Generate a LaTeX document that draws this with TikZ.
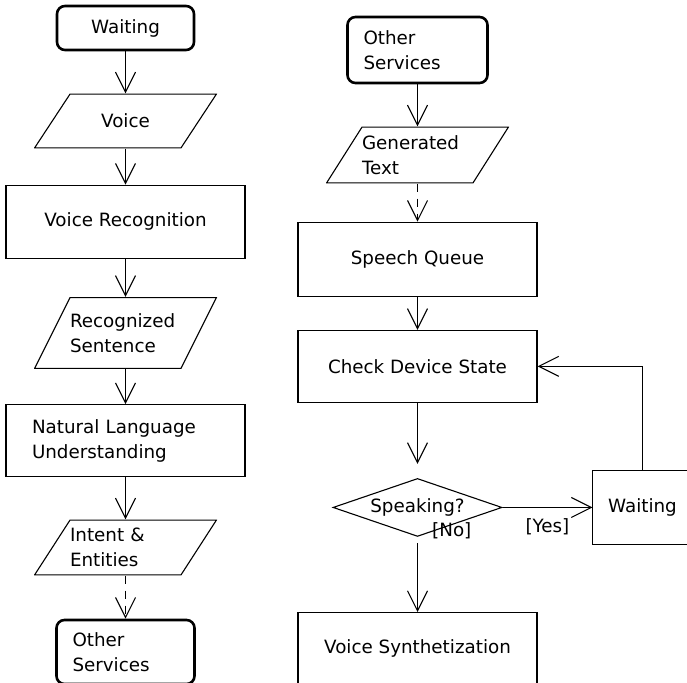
\documentclass[tikz,border=0pt]{standalone}
\usepackage{fontspec}
\setmainfont{DejaVu Sans}
\usetikzlibrary{shapes.geometric,arrows.meta,positioning}
\newcommand{\diagfont}{\fontsize{18.3}{25}\selectfont}
\tikzset{
    % Rounded start/end boxes
    terminal/.style={
        rectangle,
        rounded corners=8pt,
        draw,
        line width=2.6pt,
        minimum width=138pt,
        minimum height=66pt,
        align=left,
        font=\diagfont
    },
    process/.style={
        rectangle,
        draw,
        line width=1.1pt,
        minimum width=239pt,
        minimum height=73pt,
        align=center,
        font=\diagfont
    },
    % Data (parallelogram) boxes
    io/.style={
        rectangle,
        fill=white,
        minimum width=183pt,
        minimum height=56pt,
        text width=111pt,
        inner xsep=36pt,
        align=left,
        font=\diagfont,
        path picture={
            \draw[line width=1.1pt]
                ([shift={(0.6pt,0.6pt)}]path picture bounding box.south west) --
                ([shift={(-36pt,0.6pt)}]path picture bounding box.south east) --
                ([shift={(-0.6pt,-0.6pt)}]path picture bounding box.north east) --
                ([shift={(36pt,-0.6pt)}]path picture bounding box.north west) -- cycle;
        }
    },
    decision/.style={
        diamond,
        draw,
        line width=1.1pt,
        inner sep=0pt,
        aspect=2.9,
        minimum width=169pt,
        minimum height=58pt,
        align=center,
        font=\diagfont
    },
    guard/.style={
        inner sep=0pt,
        font=\diagfont
    },
    arrow/.style={
        -{Straight Barb[length=20pt,width=20pt]},
        line width=1.1pt
    },
    arrow dashed/.style={
        arrow,
        dash pattern=on 8pt off 7pt
    }
}

\begin{document}
\begin{tikzpicture}[x=1pt, y=1pt]
        \useasboundingbox (0,0) rectangle (687,-682);

        % Voice input column
        \node[terminal, minimum width=137pt, minimum height=44pt, align=center] (waitA) at (125.5,-28) {Waiting};
        \node[io, align=center, minimum height=55pt, below=42pt of waitA] (voice) {Voice};
        \node[process, below=36pt of voice] (vrec) {Voice Recognition};
        \node[io, minimum height=72pt, below=38pt of vrec] (recog) {Recognized\\Sentence};
        \node[process, minimum height=72pt, text width=187pt, inner xsep=26pt, align=left, below=35pt of recog] (nlu) {Natural Language\\Understanding};
        \node[io, below=42pt of nlu] (intent) {Intent \&\\Entities};
        \node[terminal, text width=106pt, inner xsep=16pt, minimum height=64pt, below=43pt of intent] (otherA) {Other\\Services};

        % Speech output column
        \node[terminal, text width=108pt, inner xsep=16pt] (otherB) at (417.5,-50) {Other\\Services};
        \node[io, minimum height=57pt, below=42pt of otherB] (gen) {Generated\\Text};
        \node[process, minimum height=74pt, below=38pt of gen] (queue) {Speech Queue};
        \node[process, minimum height=72pt, below=33pt of queue] (check) {Check Device State};
        \node[decision, below=75pt of check] (speak) {Speaking?};
        \node[process, minimum height=71pt, below=75pt of speak] (synth) {Voice Synthetization};
        % box runs off the right edge, so only three sides are drawn
        \node[process, draw=none, minimum width=120pt, text width=90pt, inner xsep=15pt, align=left, right=90pt of speak] (waitB) {Waiting};
        \draw[line width=1.1pt] (waitB.north east) -- (waitB.north west) -- (waitB.south west) -- (waitB.south east);

        % Guards
        \node[guard, anchor=west] (no) at ([shift={(14.5pt,6pt)}]speak.south) {[No]};
        \node[guard, anchor=east] (yes) at ([shift={(-23pt,-19pt)}]waitB.west) {[Yes]};

        % Arrows
        \draw[arrow] (waitA) -- (voice);
        \draw[arrow] (voice) -- (vrec);
        \draw[arrow] (vrec) -- (recog);
        \draw[arrow] (recog) -- (nlu);
        \draw[arrow] (nlu) -- (intent);
        \draw[arrow dashed] (intent) -- (otherA);

        \draw[arrow] (otherB) -- (gen);
        \draw[arrow dashed] (gen) -- (queue);
        \draw[arrow] (queue) -- (check);
        \draw[arrow, shorten >=14pt] (check) -- (speak);
        \draw[arrow, shorten <=6pt] (speak) -- (synth);
        \draw[arrow] (speak) -- (waitB);
        \draw[arrow] ([xshift=-11pt]waitB.north) |- (check.east);
    \end{tikzpicture}
\end{document}
